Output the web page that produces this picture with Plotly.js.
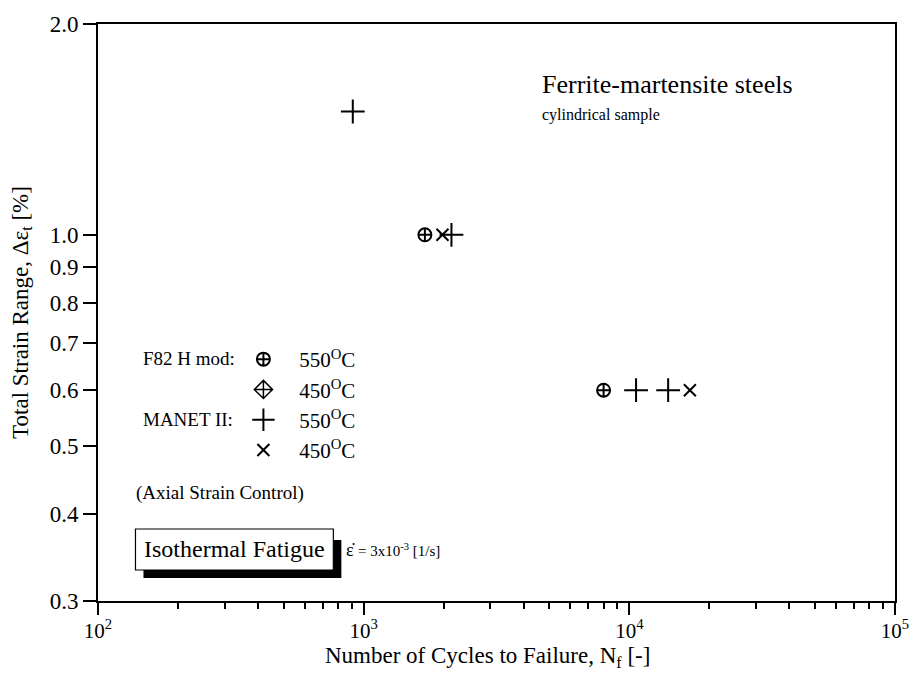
<!DOCTYPE html>
<html>
<head>
<meta charset="utf-8">
<script src="https://cdn.plot.ly/plotly-3.0.1.min.js"></script>
<style>html,body{margin:0;padding:0;background:#fff;}#chart{width:910px;height:677px;}</style>
</head>
<body>
<div id="chart"></div>
<script>
// ---- data ----
const f82Hot_N = [1700, 8000];          // F82 H mod, 550 °C
const f82Hot_e = [1.0, 0.6];
const f82Cold_N = [null];               // F82 H mod, 450 °C (legend only, no points)
const f82Cold_e = [null];
const manetHot_N = [910, 2140, 10600, 14000];   // MANET II, 550 °C
const manetHot_e = [1.5, 1.0, 0.6, 0.6];
const manetCold_N = [1980, 16900];      // MANET II, 450 °C
const manetCold_e = [1.0, 0.6];

const xTickVals = [100, 1000, 10000, 100000];
const xTickText = ['10<sup>2</sup>', '10<sup>3</sup>', '10<sup>4</sup>', '10<sup>5</sup>'];
const yTickVals = [0.3, 0.4, 0.5, 0.6, 0.7, 0.8, 0.9, 1.0, 2.0];
const yTickText = ['0.3', '0.4', '0.5', '0.6', '0.7', '0.8', '0.9', '1.0', '2.0'];

const minorX = [];
for (let d = 2; d <= 4; d++) for (let m = 2; m <= 9; m++) minorX.push(m * Math.pow(10, d));

const FONT = "'Liberation Serif', 'Times New Roman', serif";
const sp = '\u00a0\u00a0\u00a0';

const traces = [
  {x: f82Hot_N, y: f82Hot_e, mode: 'markers', name: sp + '550<sup>O</sup>C', legendgroup: 'a',
   marker: {symbol: 'circle-cross-open', size: 13, color: '#000', line: {width: 2, color: '#000'}}},
  {x: f82Cold_N, y: f82Cold_e, mode: 'markers', name: sp + '450<sup>O</sup>C', legendgroup: 'b',
   marker: {symbol: 'diamond-cross-open', size: 14, color: '#000', line: {width: 1.5, color: '#000'}}},
  {x: manetHot_N, y: manetHot_e, mode: 'markers', name: sp + '550<sup>O</sup>C', legendgroup: 'c',
   marker: {symbol: 'cross-thin-open', size: 17, color: '#000', line: {width: 2, color: '#000'}}},
  {x: manetCold_N, y: manetCold_e, mode: 'markers', name: sp + '450<sup>O</sup>C', legendgroup: 'd',
   marker: {symbol: 'x-thin-open', size: 12, color: '#000', line: {width: 2, color: '#000'}}}
];

const W = 910, H = 677, L = 97.5, R = 895, T = 24, B = 601;
const px = v => (v - L) / (R - L);
const py = v => (B - v) / (B - T);

const layout = {
  width: W, height: H,
  margin: {l: L, r: W - R, t: T, b: H - B},
  paper_bgcolor: '#fff', plot_bgcolor: '#fff',
  font: {family: FONT, color: '#000', size: 18},
  showlegend: true,
  legend: {x: px(243), y: py(339), xanchor: 'left', yanchor: 'top', traceorder: 'grouped',
           font: {family: FONT, size: 21}, bgcolor: 'rgba(0,0,0,0)', tracegroupgap: 0},
  xaxis: {
    type: 'log', range: [2, 5],
    tickmode: 'array', tickvals: xTickVals, ticktext: xTickText,
    ticks: 'outside', ticklen: 12, tickwidth: 2, tickcolor: '#000',
    showline: true, linewidth: 2, linecolor: '#000', mirror: true,
    showgrid: false, zeroline: false,
    tickfont: {family: FONT, size: 21}, ticklabeloverflow: 'allow', ticklabelstandoff: -2,
    minor: {tickmode: 'array', tickvals: minorX, ticks: 'outside', ticklen: 6, tickwidth: 2, tickcolor: '#000', showgrid: false}
  },
  yaxis: {
    type: 'log', range: [Math.log10(0.3), Math.log10(2.0)],
    tickmode: 'array', tickvals: yTickVals, ticktext: yTickText,
    ticks: 'outside', ticklen: 13, tickwidth: 2, tickcolor: '#000',
    showline: true, linewidth: 2, linecolor: '#000', mirror: true,
    showgrid: false, zeroline: false,
    tickfont: {family: FONT, size: 23}, ticklabeloverflow: 'allow',
    title: {text: 'Total Strain Range, \u0394\u03b5<sub>t</sub> [%]', font: {family: FONT, size: 23}, standoff: 15}
  },
  shapes: [
    {type: 'rect', xref: 'paper', yref: 'paper', x0: px(143), x1: px(341), y0: py(578), y1: py(540),
     fillcolor: '#000', line: {width: 0}},
    {type: 'rect', xref: 'paper', yref: 'paper', x0: px(135), x1: px(333), y0: py(570), y1: py(529),
     fillcolor: '#fff', line: {width: 1.2, color: '#000'}}
  ],
  annotations: [
    {xref: 'paper', yref: 'paper', x: px(487), y: py(657), xanchor: 'center', yanchor: 'middle', showarrow: false,
     text: 'Number of Cycles to Failure, N<sub>f</sub> [-]', font: {family: FONT, size: 23}},
    {xref: 'paper', yref: 'paper', x: px(540), y: py(84), xanchor: 'left', yanchor: 'middle', showarrow: false,
     text: 'Ferrite-martensite steels', font: {family: FONT, size: 26}},
    {xref: 'paper', yref: 'paper', x: px(540), y: py(115), xanchor: 'left', yanchor: 'middle', showarrow: false,
     text: 'cylindrical sample', font: {family: FONT, size: 16}},
    {xref: 'paper', yref: 'paper', x: px(141), y: py(358), xanchor: 'left', yanchor: 'middle', showarrow: false,
     text: 'F82 H mod:', font: {family: FONT, size: 19}},
    {xref: 'paper', yref: 'paper', x: px(141), y: py(419), xanchor: 'left', yanchor: 'middle', showarrow: false,
     text: 'MANET II:', font: {family: FONT, size: 19}},
    {xref: 'paper', yref: 'paper', x: px(134), y: py(493), xanchor: 'left', yanchor: 'middle', showarrow: false,
     text: '(Axial Strain Control)', font: {family: FONT, size: 19}},
    {xref: 'paper', yref: 'paper', x: px(234), y: py(549), xanchor: 'center', yanchor: 'middle', showarrow: false,
     text: 'Isothermal Fatigue', font: {family: FONT, size: 24}},
    {xref: 'paper', yref: 'paper', x: px(344), y: py(550), xanchor: 'left', yanchor: 'middle', showarrow: false,
     text: '\u03b5\u0307 <span style="font-size:15px">= 3x10<sup>-3</sup> [1/s]</span>', font: {family: FONT, size: 18}}
  ]
};

Plotly.newPlot('chart', traces, layout, {displayModeBar: false, staticPlot: true});
</script>
</body>
</html>
